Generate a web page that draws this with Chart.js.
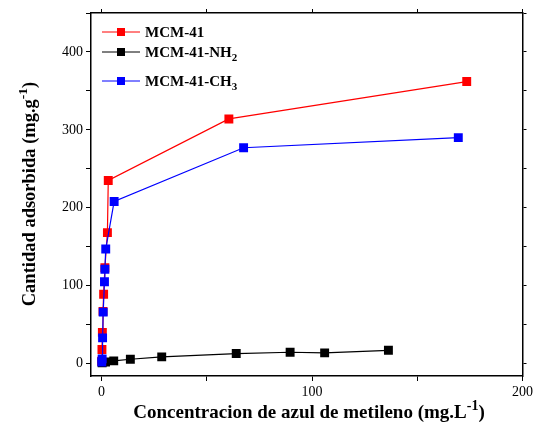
<!DOCTYPE html>
<html>
<head>
<meta charset="utf-8">
<script src="https://cdn.jsdelivr.net/npm/chart.js@4.4.0/dist/chart.umd.min.js"></script>
<style>
  html, body { margin: 0; padding: 0; background: #fff; }
  #wrap { width: 536px; height: 423px; }
</style>
</head>
<body>
<div id="wrap"><canvas id="isoChart" width="536" height="423"></canvas></div>
<script>
// datos (Ce en mg/L, q en mg/g)
const mcm41X = [0.05, 0.2, 0.4, 0.7, 1.0, 1.6, 2.8, 3.2, 60.5, 173.5];
const mcm41Y = [3, 18, 40, 67, 89, 123, 168, 235, 314, 362];

const nh2X = [0.3, 1.9, 5.8, 13.7, 28.6, 64, 89.6, 106, 136.3];
const nh2Y = [1, 2, 3.4, 5.5, 8.6, 12.8, 14.5, 13.7, 17];

const ch3X = [0.1, 0.3, 0.5, 0.8, 1.4, 1.6, 2.0, 6.0, 67.5, 169.5];
const ch3Y = [2, 6, 33, 66, 105, 121, 147, 208, 277, 290];

const xTicks = [0, 50, 100, 150, 200];
const yTicks = [0, 50, 100, 150, 200, 250, 300, 350, 400, 450];

const serie = ['MCM-41', 'MCM-41-NH', 'MCM-41-CH'];
const subs = ['', '2', '3'];
const colores = ['#ff0000', '#000000', '#0000ff'];

function pares(xs, ys) {
    return xs.map((x, i) => ({ x: x, y: ys[i] }));
}

const FONT = '"Liberation Serif", "Times New Roman", serif';

function setTicks(vals) {
    return function (scale) {
        scale.ticks = vals.map(v => ({ value: v }));
    };
}

// dibuja textos con sub/superindice
function richText(ctx, parts, x, y, align) {
    let total = 0;
    parts.forEach(p => {
        ctx.font = 'bold ' + p.size + 'px ' + FONT;
        p.w = ctx.measureText(p.t).width;
        total += p.w;
    });
    let cx = align === 'center' ? x - total / 2 : x;
    parts.forEach(p => {
        ctx.font = 'bold ' + p.size + 'px ' + FONT;
        ctx.fillText(p.t, cx, y + (p.dy || 0));
        cx += p.w;
    });
}

const textos = {
    id: 'textos',
    afterDraw(chart) {
        const ctx = chart.ctx;
        ctx.save();
        ctx.fillStyle = '#000';
        ctx.textBaseline = 'alphabetic';
        ctx.textAlign = 'left';

        // titulo eje x
        richText(ctx, [
            { t: 'Concentracion de azul de metileno (mg.L', size: 19 },
            { t: '-1', size: 14, dy: -8 },
            { t: ')', size: 19 }
        ], 309, 418, 'center');

        // titulo eje y
        ctx.save();
        ctx.translate(35, 194);
        ctx.rotate(-Math.PI / 2);
        richText(ctx, [
            { t: 'Cantidad adsorbida (mg.g', size: 18.5 },
            { t: '-1', size: 13.5, dy: -8 },
            { t: ')', size: 18.5 }
        ], 0, 0, 'center');
        ctx.restore();

        // leyenda
        const filas = [32, 52, 81];
        filas.forEach((fy, i) => {
            ctx.strokeStyle = colores[i];
            ctx.lineWidth = 1;
            ctx.beginPath();
            ctx.moveTo(102, fy);
            ctx.lineTo(140, fy);
            ctx.stroke();
            ctx.fillStyle = colores[i];
            ctx.fillRect(117, fy - 4, 8, 8);
            ctx.fillStyle = '#000';
            richText(ctx, [
                { t: serie[i], size: 15 },
                { t: subs[i], size: 11, dy: 4 }
            ], 145, fy + 5, 'left');
        });
        ctx.restore();
    }
};

const baseSet = {
    showLine: true,
    borderWidth: 1.2,
    pointStyle: 'rect',
    pointRadius: 6.3,
    pointHoverRadius: 6.3,
    pointBorderWidth: 0,
    tension: 0
};

const config = {
    type: 'scatter',
    data: {
        datasets: [{
            ...baseSet,
            label: 'MCM-41',
            data: pares(mcm41X, mcm41Y),
            borderColor: colores[0],
            backgroundColor: colores[0],
            order: 1
        }, {
            ...baseSet,
            label: 'MCM-41-NH2',
            data: pares(nh2X, nh2Y),
            borderColor: colores[1],
            backgroundColor: colores[1],
            order: 2
        }, {
            ...baseSet,
            label: 'MCM-41-CH3',
            data: pares(ch3X, ch3Y),
            borderColor: colores[2],
            backgroundColor: colores[2],
            order: 0
        }]
    },
    options: {
        responsive: false,
        animation: false,
        layout: { padding: 0 },
        plugins: {
            legend: { display: false },
            tooltip: { enabled: false }
        },
        scales: {
            x: {
                type: 'linear',
                position: 'bottom',
                min: -5,
                max: 200,
                afterBuildTicks: setTicks(xTicks),
                afterFit(s) { s.height = 47; },
                border: { color: '#000', width: 1.5 },
                grid: { drawOnChartArea: false, tickLength: 5, color: '#000', tickWidth: 1 },
                ticks: {
                    color: '#000',
                    padding: 3,
                    maxRotation: 0,
                    font: { family: FONT, size: 14 },
                    callback: v => (v % 100 === 0 ? String(v) : '')
                }
            },
            x2: {
                type: 'linear',
                position: 'top',
                min: -5,
                max: 200,
                afterBuildTicks: setTicks(xTicks),
                afterFit(s) { s.height = 13; },
                border: { color: '#000', width: 1.5 },
                grid: { drawOnChartArea: false, tickLength: 4, color: '#000', tickWidth: 1 },
                ticks: { display: false }
            },
            y: {
                type: 'linear',
                position: 'left',
                min: -16,
                max: 450,
                afterBuildTicks: setTicks(yTicks),
                afterFit(s) { s.width = 91; },
                border: { color: '#000', width: 1.5 },
                grid: { drawOnChartArea: false, tickLength: 5, color: '#000', tickWidth: 1 },
                ticks: {
                    color: '#000',
                    padding: 3,
                    font: { family: FONT, size: 14 },
                    callback: v => (v % 100 === 0 ? String(v) : '')
                }
            },
            y2: {
                type: 'linear',
                position: 'right',
                min: -16,
                max: 450,
                afterBuildTicks: setTicks(yTicks),
                afterFit(s) { s.width = 10; },
                border: { color: '#000', width: 1.5 },
                grid: { drawOnChartArea: false, tickLength: 4, color: '#000', tickWidth: 1 },
                ticks: { display: false }
            }
        }
    },
    plugins: [textos]
};

document.addEventListener('DOMContentLoaded', function () {
    const ctx = document.getElementById('isoChart');
    if (ctx) {
        new Chart(ctx, config);
    }
});
</script>
</body>
</html>
